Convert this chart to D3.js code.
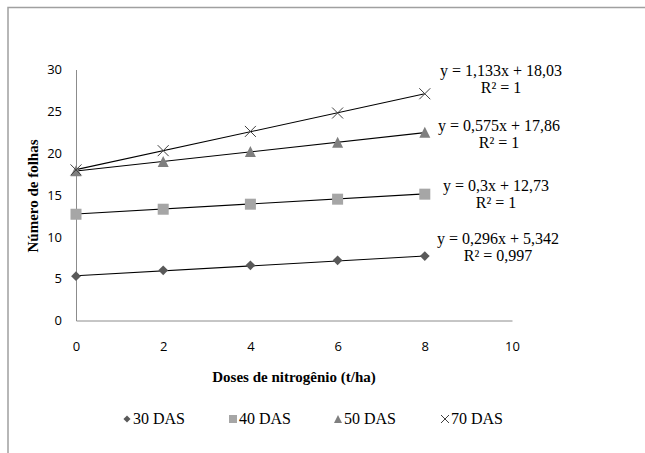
<!DOCTYPE html>
<html>
<head>
<meta charset="utf-8">
<script src="https://cdn.jsdelivr.net/npm/d3@7"></script>
<style>
  body { margin: 0; background: #fff; }
</style>
</head>
<body>
<div id="chart"></div>
<script>
// doses de nitrogênio (t/ha)
var doses = [0, 2, 4, 6, 8];
var seriesNames = ['30 DAS', '40 DAS', '50 DAS', '70 DAS'];

// número de folhas for each series
var das30 = [5.3, 6.0, 6.6, 7.2, 7.7];
var das40 = [12.7, 13.3, 13.9, 14.5, 15.1];
var das50 = [17.9, 19.0, 20.2, 21.3, 22.5];
var das70 = [18.0, 20.3, 22.6, 24.8, 27.1];

// linear trend lines, as printed on the chart
var slopes = [0.296, 0.3, 0.575, 1.133];
var intercepts = [5.342, 12.73, 17.86, 18.03];
var eqLabels = ['y = 0,296x + 5,342', 'y = 0,3x + 12,73', 'y = 0,575x + 17,86', 'y = 1,133x + 18,03'];
var r2Labels = ['R² = 0,997', 'R² = 1', 'R² = 1', 'R² = 1'];

var xTicks = [0, 2, 4, 6, 8, 10];
var yTicks = [0, 5, 10, 15, 20, 25, 30];

var allSeries = [das30, das40, das50, das70];

var SERIF = '"Liberation Serif", "Times New Roman", serif';
var SANS = '"Open Sans", "Liberation Sans", sans-serif';

var width = 645, height = 453;

var svg = d3.select('#chart').append('svg')
    .attr('width', width)
    .attr('height', height);

// outer frame (only left and top visible)
svg.append('path')
    .attr('d', 'M8,453 L8,7.5 L645,7.5')
    .attr('fill', 'none')
    .attr('stroke', '#a0a0a0')
    .attr('stroke-width', 1.5);

var x = d3.scaleLinear().domain([0, 10]).range([76, 512]);
var y = d3.scaleLinear().domain([0, 30]).range([320.5, 69.5]);

var xAxis = d3.axisBottom(x).tickValues(xTicks).tickSize(0).tickPadding(21);
var yAxis = d3.axisLeft(y).tickValues(yTicks).tickSize(0).tickPadding(14);

var gx = svg.append('g').attr('transform', 'translate(0,' + y(0) + ')').call(xAxis);
var gy = svg.append('g').attr('transform', 'translate(' + x(0) + ',0)').call(yAxis);

[gx, gy].forEach(function(g) {
    g.attr('font-family', null).attr('font-size', null);
    g.select('.domain').attr('stroke', '#8c8c8c').attr('stroke-width', 1);
    g.selectAll('text')
        .style('font-family', SANS)
        .style('font-size', '13px')
        .attr('fill', '#000');
});

// axis titles
svg.append('text')
    .style('font-family', SERIF)
    .style('font-size', '15px')
    .style('font-weight', 'bold')
    .attr('x', 294)
    .attr('y', 382)
    .attr('text-anchor', 'middle')
    .text('Doses de nitrogênio (t/ha)');

svg.append('text')
    .style('font-family', SERIF)
    .style('font-size', '15px')
    .style('font-weight', 'bold')
    .attr('transform', 'translate(38,196) rotate(-90)')
    .attr('text-anchor', 'middle')
    .text('Número de folhas');

var markerColors = ['#595959', '#a6a6a6', '#7f7f7f', '#404040'];

function drawMarker(g, i, cx, cy, s) {
    if (i === 0) {
        g.append('path')
            .attr('d', d3.symbol().type(d3.symbolDiamond2).size(s * s * 0.5)())
            .attr('transform', 'translate(' + cx + ',' + cy + ')')
            .attr('fill', markerColors[i]);
    } else if (i === 1) {
        g.append('rect')
            .attr('x', cx - s / 2).attr('y', cy - s / 2)
            .attr('width', s).attr('height', s)
            .attr('fill', markerColors[i]);
    } else if (i === 2) {
        g.append('path')
            .attr('d', 'M' + cx + ',' + (cy - s / 2) +
                       'L' + (cx + s / 2) + ',' + (cy + s / 2) +
                       'L' + (cx - s / 2) + ',' + (cy + s / 2) + 'Z')
            .attr('fill', markerColors[i]);
    } else {
        var h = s / 2;
        g.append('path')
            .attr('d', 'M' + (cx - h) + ',' + (cy - h) + 'L' + (cx + h) + ',' + (cy + h) +
                       'M' + (cx + h) + ',' + (cy - h) + 'L' + (cx - h) + ',' + (cy + h))
            .attr('stroke', markerColors[i])
            .attr('stroke-width', 1)
            .attr('fill', 'none');
    }
}

// trend lines
var line = d3.line().x(d => x(d[0])).y(d => y(d[1]));
slopes.forEach(function(m, i) {
    var ends = [doses[0], doses[doses.length - 1]].map(d => [d, m * d + intercepts[i]]);
    svg.append('path')
        .attr('d', line(ends))
        .attr('fill', 'none')
        .attr('stroke', '#000')
        .attr('stroke-width', 1.1);
});

// markers
var markerLayer = svg.append('g');
allSeries.forEach(function(vals, i) {
    vals.forEach(function(v, j) {
        drawMarker(markerLayer, i, x(doses[j]), y(v), 11);
    });
});

// equation labels, placed near the end of each trend line
var eqPos = [[498, 244], [496, 191], [499, 131], [501, 76]];
eqLabels.forEach(function(t, i) {
    var g = svg.append('g');
    [t, r2Labels[i]].forEach(function(s, k) {
        g.append('text')
            .style('font-family', SERIF)
            .style('font-size', '16px')
            .attr('x', eqPos[i][0]).attr('y', eqPos[i][1] + k * 17)
            .attr('text-anchor', 'middle')
            .text(s);
    });
});

// legend
var legendX = [127, 233, 338, 445];
var legend = svg.append('g');
seriesNames.forEach(function(name, i) {
    drawMarker(legend, i, legendX[i], 419, 8);
    legend.append('text')
        .style('font-family', SERIF)
        .style('font-size', '16px')
        .attr('x', legendX[i] + 6)
        .attr('y', 424)
        .text(name);
});
</script>
</body>
</html>
